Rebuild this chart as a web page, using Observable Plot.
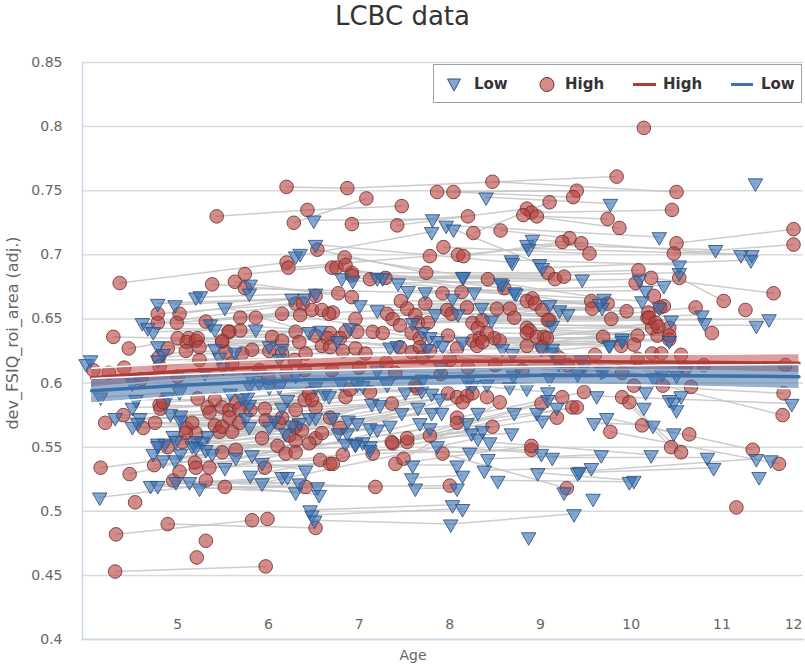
<!DOCTYPE html>
<html><head><meta charset="utf-8">
<script src="https://cdn.jsdelivr.net/npm/d3@7"></script>
<script src="https://cdn.jsdelivr.net/npm/@observablehq/plot@0.6"></script>
<style>
body{margin:0;background:#fff;font-family:"DejaVu Sans",sans-serif;}
#wrap{position:relative;width:805px;height:665px;overflow:hidden;}
#title{height:40px;text-align:center;font-size:26px;color:#333;line-height:32px;}
#ylab{position:absolute;left:12px;top:333px;transform:translate(-50%,-50%) rotate(-90deg);white-space:nowrap;font-size:16px;color:#666;}
#xlab{position:absolute;left:413px;top:655px;transform:translate(-50%,-50%);font-size:14px;color:#666;}
#legend{position:absolute;left:433px;top:64px;width:367px;height:37px;border:1.5px solid #a0a0a0;background:#fff;font-weight:bold;font-size:15px;color:#333;}
#legend .t{position:absolute;top:19px;transform:translateY(-50%);line-height:1;}
#legend svg{position:absolute;left:0;top:0;}
</style></head><body>
<div id="wrap">
<div id="title">LCBC data</div>
<div id="chart"></div>
<div id="ylab">dev_FSIQ_roi_area (adj.)</div>
<div id="xlab">Age</div>
<div id="legend"></div>
</div>
<script>
// ---- data: each subject = [age, value, age, value, ...] ----
const highSubjects = [
[6.2,.753,6.87,.752,9.84,.761],[5.43,.73,6.43,.735,7.47,.738],[6.28,.725,7.08,.744],[4.36,.678,6.2,.694],
[6.22,.69,7.78,.699],[10.14,.799],[7.86,.749,9.4,.75],[8.04,.749,9.36,.745],[8.47,.757,10.5,.749],
[6.92,.724,8.2,.73],[7.42,.723,8.85,.736],[8.9,.733,10.45,.735],[8.96,.73,9.74,.728],[8.81,.731,9.87,.721],
[8.26,.717,9.1,.741],[8.56,.719,9.32,.713],[7.93,.706,9.54,.701],[8.09,.7,9.45,.709],[8.15,.699,9.24,.71],
[10.5,.709,11.79,.72],[10.47,.701,11.79,.708],[6.54,.704,7.74,.686],[6.84,.698,8.42,.681],[6.7,.69,8.6,.674],
[6.75,.69,8.91,.666],[6.92,.686,9.08,.686],[6.92,.684,9.16,.681],[7.12,.681,9.26,.683],[7.29,.682,10.08,.688],
[10.22,.682,11.57,.67],[10.05,.678],[10.53,.682,11.02,.664],[5.74,.685,6.85,.692],[5.38,.677,6.77,.67],
[5.63,.679,6.92,.667],[5.74,.674,7.92,.67],[8.13,.671],[7.46,.664,9.56,.664],[7.73,.662,9.74,.662],
[6.71,.655,8.19,.659,9.95,.656],[6.96,.65,8.52,.658],[7.31,.654,8.66,.658],[7.37,.65,8.71,.651],
[7.53,.658,8.85,.664],[7.62,.653,8.94,.662],[7.65,.647,9.1,.649],[7.76,.647,9.57,.658],[7.45,.645,9.02,.657],
[7.97,.657,10.32,.659],[8.02,.654,10.18,.651],[8.25,.647,10.42,.643],[8.31,.643,10.23,.643],[8.36,.649,9.78,.65],
[8.85,.643,10.29,.637],[8.88,.641,10.07,.637],[9.08,.649,10.71,.659],[11.26,.657],[10.89,.639],[10.25,.668],
[10.36,.66],[10.19,.655],[10.2,.651],[9.04,.636,10.27,.647],[8.85,.629,10.3,.644],[8.49,.635,10.42,.634],
[8.25,.633,9.69,.636],[8.33,.635,9.89,.629],[8.41,.639,10.42,.637],[8.3,.629,10.03,.63],[8.36,.632],[8.55,.633],
[8.85,.639],[8.96,.636],[9.07,.635],[7.98,.637],[7.15,.64],[6.68,.639],[6.79,.635],[7.26,.639],
[4.78,.654,6.3,.662],[4.78,.647,6.38,.662],[5.02,.654,6.52,.668],[4.99,.647,6.48,.657],[5.31,.648,6.59,.657],
[5.69,.651,6.35,.653],[5.86,.651,6.67,.654],[5.57,.64,6.98,.64],[5.69,.641,6.85,.64],[6.15,.654,7.58,.639],
[4.29,.636,5.0,.635,6.04,.636],[4.46,.627,5.12,.635],[5.1,.632,6.15,.633],[5.2,.633,6.3,.64],[5.22,.635,6.34,.632],
[5.24,.628,6.52,.637],[4.89,.627,6.65,.635,7.67,.635],[4.79,.62,6.59,.629],[4.8,.613,6.01,.625],[5.09,.625,6.15,.623],
[5.49,.632,6.82,.625],[5.53,.624,6.96,.627],[5.71,.623,7.07,.623],[5.82,.626,7.45,.628],[5.24,.618,6.29,.618],
[6.41,.623,7.58,.624],[5.56,.64,7.67,.628],[5.49,.633],[4.41,.612],[4.07,.61],[4.24,.608],[7.78,.625,9.02,.628],
[8.08,.627],[6.68,.628],
[4.6,.603,5.9,.61],[5.0,.605,6.4,.61],[5.6,.615,7.0,.612],[6.0,.604,7.4,.608],[6.2,.608,7.7,.62],[6.7,.61,8.2,.612],
[7.3,.616,8.8,.61],[7.9,.607,9.3,.614],[8.0,.618,9.6,.622],[8.5,.614,9.9,.608],[9.2,.62,10.6,.612],
[10.8,.614,11.7,.614],[10.07,.619],[10.23,.623],[10.33,.623],[10.55,.622],
[4.8,.583,6.3,.579],[4.81,.58,6.4,.587],[4.84,.585,6.45,.592],[4.2,.569,5.8,.579],[4.4,.575,5.96,.58],
[4.62,.565,5.97,.571],[4.75,.569,6.12,.569],[5.09,.565,6.15,.573],[5.2,.561,6.3,.566],[5.16,.569,6.23,.559],
[5.22,.588,6.52,.581],[5.33,.581,6.48,.587],[5.35,.577,6.85,.589],[5.41,.587,6.9,.595],[5.49,.581,7.12,.593],
[5.57,.579,7.36,.584],[5.64,.585,7.62,.598],[5.68,.58,7.64,.596],[5.41,.567,6.68,.573],[5.46,.562,6.79,.565],
[5.49,.566,7.98,.592],[5.57,.573,8.08,.589],[5.6,.562,6.37,.563],[5.68,.569,8.19,.59],[5.93,.557,6.52,.557],
[6.59,.561,8.25,.592],[6.3,.555,8.14,.585],[5.05,.554,6.1,.551],[5.09,.561],[4.15,.534,5.49,.546],
[4.47,.529,5.64,.548],[4.53,.507],[4.74,.536,6.19,.545],[4.89,.55,6.3,.546],[4.95,.524,6.41,.519],
[5.02,.531,6.45,.553],[5.19,.538,6.57,.54],[5.2,.534,6.68,.537],[5.35,.534,6.82,.544],[5.31,.524,7.18,.519],
[5.52,.519,8.0,.52],[5.96,.534,6.71,.537],[4.32,.482,5.82,.493],[4.89,.49,6.52,.487],[5.99,.494],[5.31,.477],
[5.21,.464],[4.31,.453,5.97,.457],[7.15,.545,8.9,.548],[7.4,.537,8.9,.551],[7.49,.541,8.55,.585],
[7.37,.553,8.47,.566],[7.53,.554,9.01,.584],[7.92,.545,9.29,.518],[7.36,.554,9.24,.589],[7.53,.557,9.35,.581],
[7.78,.559,9.18,.573],[8.08,.573,9.48,.593],[8.08,.569,9.4,.581],[8.41,.589],[9.9,.589,10.44,.55],
[9.98,.585,10.55,.546],[10.03,.598,11.68,.592],[10.35,.598,11.67,.575],[10.66,.597],[10.12,.567,11.34,.548],
[9.77,.562,11.63,.537],[10.64,.56],[11.16,.503]
];
const lowSubjects = [
[8.4,.745,9.77,.74],[6.5,.727,7.81,.728],[6.3,.699,7.8,.718],[7.96,.723,10.31,.714],[8.04,.72,8.99,.693],
[8.85,.708,10.93,.704],[8.91,.712,11.21,.7],[8.87,.705,11.33,.7],[8.68,.696,10.53,.692],[9.02,.69,11.32,.696],
[6.52,.708,8.69,.694],[6.81,.682,9.46,.681],[7.2,.682,8.58,.677],[7.43,.678,10.09,.681],[7.54,.672,10.16,.672],
[7.73,.671,10.36,.676],[8.15,.683,10.53,.686],[8.27,.671,10.12,.664],[8.56,.678,9.7,.666],[8.73,.67,9.68,.659],
[8.03,.666,9.65,.662],[6.35,.701],[11.37,.756],[6.93,.68,8.71,.671],[7.26,.682,8.14,.683],[7.01,.661,9.1,.661],
[7.2,.657,9.21,.657],[7.84,.654,9.3,.654],[8.09,.654,10.44,.649],[8.35,.659,10.31,.659],[8.46,.649,10.78,.653],
[10.81,.647],[9.13,.645,11.38,.645],[7.59,.647,11.52,.65],[7.7,.64,9.13,.627],[7.78,.636,9.9,.635],
[7.86,.633,9.76,.63],[8.14,.632,10.42,.633],[8.58,.627,9.9,.633],[8.69,.623,9.76,.629],[9.01,.627,10.34,.607],
[9.13,.624,10.25,.604],[6.9,.643,9.45,.618],[6.76,.633,9.48,.613],[7.34,.628,9.41,.607],[7.42,.629,9.67,.609],
[7.75,.627],[7.92,.629],[4.78,.662,6.26,.666],[4.97,.661,6.4,.666],[5.2,.667,6.52,.67],[5.25,.668],[5.8,.677],
[5.79,.67],[5.52,.659,6.45,.64],[4.61,.647,5.36,.646,6.57,.641],[4.67,.643,5.41,.642],[4.73,.64,5.86,.642],
[4.78,.629,6.01,.629],[4.84,.623,6.15,.627],[4.78,.618,6.12,.619],[5.41,.627],[5.46,.62],[5.63,.624],
[3.99,.615],[4.04,.618],[4.15,.589,5.02,.593],[4.5,.581,5.79,.583],[4.54,.587,6.21,.587],[4.31,.573,5.75,.573],
[4.58,.573,6.07,.571],[4.5,.566,6.01,.566],[4.56,.569,5.79,.566],[4.92,.576,6.45,.573],[5.03,.575,6.52,.573],
[5.03,.571,6.34,.569],[4.89,.589,6.52,.597],[5.79,.598,6.62,.592],[5.9,.6,6.67,.59],[5.58,.592,6.98,.599],
[5.71,.588,7.04,.598],[5.77,.589,7.31,.599],[6.01,.597,7.51,.593],[6.12,.597,7.69,.594],[6.15,.581,7.8,.592],
[6.26,.567,7.89,.588],[6.19,.561,7.14,.584],[5.33,.559,7.23,.583],[5.27,.554,7.47,.577],[5.2,.555,7.65,.581],
[5.16,.551,7.8,.577],[4.95,.559,7.91,.577],[4.98,.555,6.71,.573],[4.78,.553,6.88,.571],[4.86,.553,6.98,.569],
[4.14,.511,6.15,.527],[4.73,.545,7.12,.565],[4.78,.551,7.2,.564],[4.84,.54,7.34,.567],[4.97,.54,6.77,.561],
[5.03,.545,6.87,.561],[4.7,.52,6.21,.527],[4.78,.52,6.3,.515],[5.13,.523,6.34,.522],[5.24,.518,6.54,.519],
[4.98,.523,6.56,.513],[5.2,.55,6.96,.553],[5.31,.548,7.04,.554],[5.38,.545,7.12,.551],[5.52,.534,7.67,.569],
[5.64,.542,7.78,.565],[5.82,.544,8.19,.569],[5.93,.538,6.41,.532],[5.8,.528,8.24,.561],[5.93,.522,8.31,.557],
[6.46,.501,8.03,.505],[6.48,.497,8.14,.502],[6.51,.493,8.01,.49,9.37,.498],[6.96,.552,8.36,.563],
[6.85,.553,8.68,.561],[7.12,.548,8.22,.546],[7.59,.536,8.08,.536],[7.58,.526,8.14,.528],[7.62,.518,8.08,.518],
[8.42,.541,9.67,.544],[8.38,.532,9.56,.534],[8.53,.524,9.98,.523],[8.44,.554,10.22,.544],[7.86,.551,9.01,.545],
[8.87,.48],[8.97,.53,10.03,.524],[9.13,.542,10.84,.542],[9.26,.515],[9.58,.51],[9.41,.53,10.91,.534],
[9.43,.531,11.38,.541],[11.54,.54],[11.41,.527],[9.62,.59,11.77,.584],[10.16,.593],[10.14,.581],[10.42,.587],
[10.47,.585],[10.5,.579],[10.55,.59],[9.59,.569,10.24,.567],[9.73,.573,10.47,.561],[8.25,.598,9.08,.593],
[8.41,.599],[8.66,.597],[8.85,.596],[8.31,.577],[8.71,.577],[8.96,.577],[9.02,.571],[9.18,.581],[9.08,.587],
[5.3,.608,6.8,.6],[6.3,.606,7.7,.603],[7.2,.61,8.7,.606],[8.2,.601,9.7,.61],[9.1,.604,10.5,.606],
[4.5,.6,5.8,.605],[5.5,.612],[7.9,.612,9.2,.615]
];
// fitted trends (mean and half-width of the band)
const fitAges  = [4.05, 5, 6, 7, 8, 9, 10, 11, 11.85];
const highFit  = [0.604, 0.609, 0.6125, 0.6155, 0.617, 0.617, 0.6165, 0.616, 0.6155];
const highHalf = [0.0075, 0.0065, 0.006, 0.0055, 0.0055, 0.0055, 0.006, 0.0065, 0.0075];
const lowFit   = [0.594, 0.598, 0.6015, 0.6035, 0.605, 0.606, 0.606, 0.6055, 0.605];
const lowHalf  = [0.0095, 0.0085, 0.0075, 0.007, 0.007, 0.007, 0.0075, 0.0085, 0.0095];
const yTicks = [0.4, 0.45, 0.5, 0.55, 0.6, 0.65, 0.7, 0.75, 0.8, 0.85];
const xTicks = [5, 6, 7, 8, 9, 10, 11, 12];
const xDomain = [3.95, 11.9];
const groupNames = ["Low", "High"];
const colors = {High: {fill: "#b5403b", stroke: "#6e3131", line: "#b03c3a", band: "#c0504d"}, Low: {fill: "#2f6db5", stroke: "#34527a", line: "#3d6fa8", band: "#4572a7"}};

function toPoints(subjects, group) {
  return subjects.flatMap((s, i) => {
    const pts = [];
    for (let k = 0; k < s.length; k += 2) pts.push({age: s[k], val: s[k + 1], id: group + i, group});
    return pts;
  });
}
const highPts = toPoints(highSubjects, "High");
const lowPts = toPoints(lowSubjects, "Low");
const allPts = [...highPts, ...lowPts];
// interleave draw order by subject index
const drawPts = allPts.slice().sort((a, b) => (+a.id.replace(/\D/g, "")) - (+b.id.replace(/\D/g, "")) || (a.group < b.group ? -1 : 1));

const fitRows = (fit, half) => fitAges.map((a, i) => ({age: a, mid: fit[i], lo: fit[i] - half[i], hi: fit[i] + half[i]}));
const highRows = fitRows(highFit, highHalf);
const lowRows = fitRows(lowFit, lowHalf);

const bandMarks = (rows, c) => [
  Plot.areaY(rows, {x: "age", y1: "lo", y2: "hi", fill: c.band, fillOpacity: 0.55, curve: "natural"}),
  Plot.line(rows, {x: "age", y: "lo", stroke: "#fff", strokeWidth: 1.5, curve: "natural"}),
  Plot.line(rows, {x: "age", y: "hi", stroke: "#fff", strokeWidth: 1.5, curve: "natural"}),
  Plot.line(rows, {x: "age", y: "mid", stroke: c.line, strokeWidth: 3.5, curve: "natural"})
];

const chart = Plot.plot({
  width: 805, height: 625,
  marginTop: 22, marginBottom: 26, marginLeft: 82, marginRight: 2,
  style: {fontFamily: "DejaVu Sans, sans-serif", fontSize: "14px", color: "#666", background: "#fff"},
  x: {domain: xDomain, axis: null},
  y: {domain: [0.4, 0.85], axis: null},
  r: {type: "identity"},
  marks: [
    Plot.gridY(yTicks, {stroke: "#dadada", strokeOpacity: 1, strokeWidth: 1.5}),
    Plot.frame({anchor: "left", stroke: "#ccd6eb", strokeWidth: 1.5}),
    Plot.frame({anchor: "bottom", stroke: "#ccd6eb", strokeWidth: 1.5}),
    Plot.axisY(yTicks, {tickSize: 0, tickPadding: 20, tickFormat: d => String(+d.toFixed(2)), fill: "#666", fontSize: 14, label: null}),
    Plot.text(xTicks.filter(t => t < xDomain[1]), {x: d => d, text: d => String(d), frameAnchor: "bottom", dy: -11, fill: "#666", fontSize: 14}),
    Plot.text(xTicks.filter(t => t >= xDomain[1]), {text: d => String(d), frameAnchor: "bottom-right", dy: -11, dx: -1, textAnchor: "end", fill: "#666", fontSize: 14}),
    Plot.line(allPts, {x: "age", y: "val", z: "id", stroke: "#c4c4c4", strokeWidth: 1.5, strokeOpacity: 0.85}),
    Plot.dot(drawPts, {
      x: "age", y: "val",
      symbol: d => d.group === "High" ? "circle" : "triangle",
      r: d => d.group === "High" ? 6.8 : 5.4,
      rotate: 180,
      fill: d => colors[d.group].fill, fillOpacity: 0.6,
      stroke: d => colors[d.group].stroke, strokeOpacity: 0.85, strokeWidth: 1
    }),
    ...bandMarks(highRows, colors.High),
    ...bandMarks(lowRows, colors.Low)
  ]
});
document.getElementById("chart").appendChild(chart);

// legend
const lg = document.getElementById("legend");
lg.innerHTML = `
<svg width="367" height="37">
  <path d="M13.5,14 L26.5,14 L20,26 Z" fill="${colors.Low.fill}" fill-opacity="0.6" stroke="${colors.Low.stroke}" stroke-width="1"/>
  <circle cx="113" cy="19.5" r="7" fill="${colors.High.fill}" fill-opacity="0.6" stroke="${colors.High.stroke}" stroke-width="1"/>
  <line x1="199" x2="222" y1="19.5" y2="19.5" stroke="${colors.High.line}" stroke-width="3"/>
  <line x1="297" x2="319" y1="19.5" y2="19.5" stroke="${colors.Low.line}" stroke-width="3"/>
</svg>
<span class="t" style="left:40px">${groupNames[0]}</span>
<span class="t" style="left:131px">${groupNames[1]}</span>
<span class="t" style="left:229px">${groupNames[1]}</span>
<span class="t" style="left:327px">${groupNames[0]}</span>`;
</script>
</body></html>
